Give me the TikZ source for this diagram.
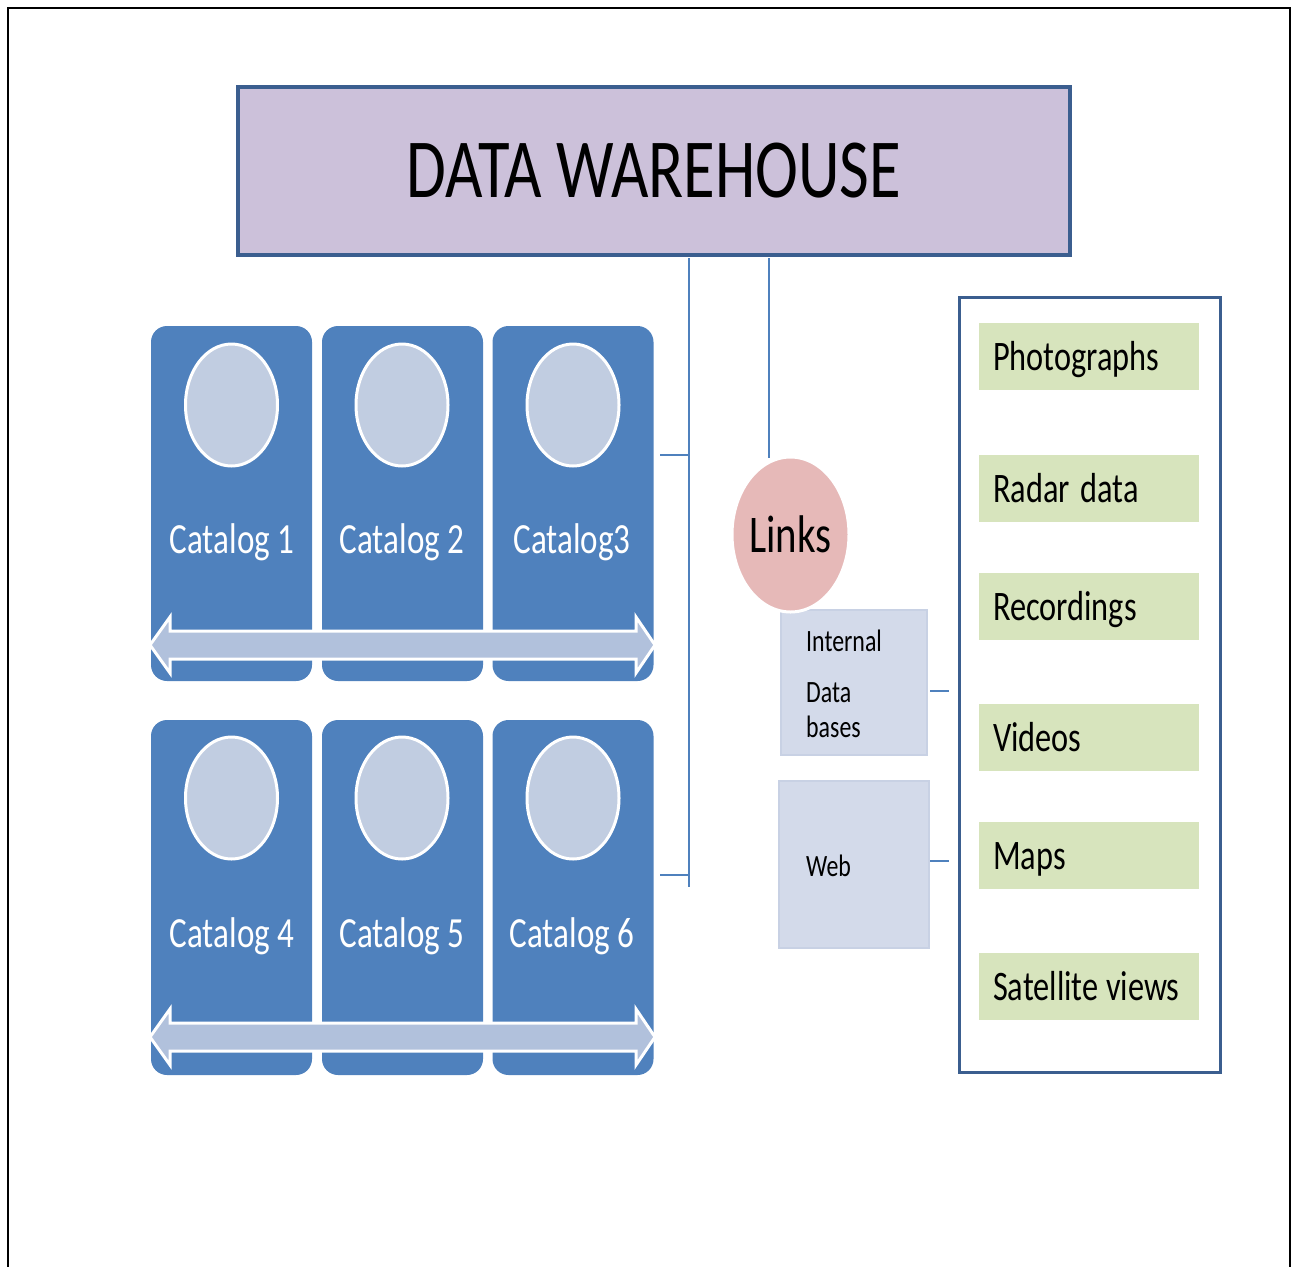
\documentclass[tikz,border=0pt]{standalone}
\usepackage{fontspec}
\setmainfont{Carlito}
\usetikzlibrary{shapes.geometric}
\definecolor{dwfill}{HTML}{CCC1DA}
\definecolor{dwline}{HTML}{3B5E8F}
\definecolor{panelblue}{HTML}{4F81BD}
\definecolor{ellfill}{HTML}{C1CDE1}
\definecolor{arrowfill}{HTML}{B1C1DC}
\definecolor{linkfill}{HTML}{E6B9B8}
\definecolor{dbfill}{HTML}{D3DAEA}
\definecolor{dbline}{HTML}{C8D1E4}
\definecolor{greenfill}{HTML}{D7E4BD}
\definecolor{connblue}{HTML}{4F81BD}
\newcommand{\sq}[1]{\scalebox{0.77}[1]{#1}}
\tikzset{
  dwbox/.style={draw=dwline, line width=3.2pt, fill=dwfill, minimum width=832pt, minimum height=168pt, inner sep=0pt, font=\fontsize{84}{96}\selectfont},
  panel/.style={fill=panelblue, rounded corners=16pt, minimum width=161pt, minimum height=355pt, inner sep=0pt},
  disc/.style={ellipse, draw=white, line width=3pt, fill=ellfill, minimum width=92pt, minimum height=122pt, inner sep=0pt},
  cattext/.style={text=white, anchor=base, inner sep=0pt, font=\fontsize{43}{50}\selectfont},
  dblarrowstyle/.style={fill=arrowfill, draw=white, line width=3pt, line join=miter},
  conn/.style={draw=connblue, line width=1.8pt},
  linkdisc/.style={ellipse, draw=white, line width=3pt, fill=linkfill, minimum width=117pt, minimum height=155pt, inner sep=0pt, font=\fontsize{53}{60}\selectfont},
  dbbox/.style={draw=dbline, line width=1.2pt, fill=dbfill, inner sep=0pt},
  dbtext/.style={anchor=base west, inner sep=0pt, font=\fontsize{31}{36}\selectfont},
  container/.style={draw=dwline, line width=3pt, fill=white, minimum width=261pt, minimum height=775pt, inner sep=0pt},
  greenbox/.style={fill=greenfill, minimum height=67pt, text height=27pt, text depth=0pt, text width=192pt, inner xsep=14pt, inner ysep=0pt, align=left, font=\fontsize{42}{48}\selectfont},
}
\begin{document}
\begin{tikzpicture}[x=1pt,y=-1pt]
\useasboundingbox (0,0) rectangle (1292,1266);
% outer frame
\draw[black, line width=2.5pt] (8,1270) -- (8,8) -- (1290,8) -- (1290,1270);

% data warehouse
\node[dwbox] (dw) at (654,171) {\sq{DATA WAREHOUSE}};

% connectors
\coordinate (trunkend) at (689,887);
\coordinate (t1) at (689,455);
\coordinate (t2) at (689,875);
\coordinate (tick1) at (660,455);
\coordinate (tick2) at (660,875);
\coordinate (lk) at (769,458);
\draw[conn] ([yshift=-1.5pt]dw.south -| trunkend) -- (trunkend);
\draw[conn] (tick1) -- (t1);
\draw[conn] (tick2) -- (t2);
\draw[conn] ([yshift=-1.5pt]dw.south -| lk) -- (lk);

% catalog panels
\foreach \px/\cx in {1/231.5,2/402.5,3/573}{
  \node[panel] (pa\px) at (\cx,503.5) {};
  \node[panel] (pb\px) at (\cx,897.5) {};
}
\node[disc] (da1) at (231.5,405) {};
\node[disc] (da2) at (402,405) {};
\node[disc] (da3) at (573,405) {};
\node[disc] (db1) at (231.5,798) {};
\node[disc] (db2) at (402,798) {};
\node[disc] (db3) at (573,798) {};
\node[cattext] (ca1) at (232,553) {\sq{Catalog 1}};
\node[cattext] (ca2) at (402,553) {\sq{Catalog 2}};
\node[cattext] (ca3) at (572,553) {\sq{Catalog3}};
\node[cattext] (cb1) at (232,947) {\sq{Catalog 4}};
\node[cattext] (cb2) at (402,947) {\sq{Catalog 5}};
\node[cattext] (cb3) at (572,947) {\sq{Catalog 6}};

% double arrows
\foreach \cy in {645,1037}{
  \path[dblarrowstyle] (150,\cy) -- (170,{\cy-28}) -- (170,{\cy-14}) -- (636,{\cy-14}) -- (636,{\cy-28})
     -- (655,\cy) -- (636,{\cy+28}) -- (636,{\cy+14}) -- (170,{\cy+14}) -- (170,{\cy+28}) -- cycle;
}

% links branch
\node[dbbox, minimum width=146pt, minimum height=145pt] (idb) at (854,682.5) {};
\node[dbbox, minimum width=150pt, minimum height=167pt] (web) at (854,864.5) {};
\node[linkdisc] (links) at (790.5,534.5) {\sq{Links}};
\node[dbtext] (idb1) at (806,651) {\sq{Internal}};
\node[dbtext] (idb2) at (806,702) {\sq{Data}};
\node[dbtext] (idb3) at (806,737) {\sq{bases}};
\node[dbtext] (webt) at (806,876) {\sq{Web}};

% container with media types
\node[container] (cont) at (1089.5,684.5) {};
\coordinate (s1a) at (930,691);
\coordinate (s1b) at (949,691);
\coordinate (s2a) at (930,861);
\coordinate (s2b) at (949,861);
\draw[conn] (s1a) -- (s1b);
\draw[conn] (s2a) -- (s2b);

\node[greenbox] (g1) at (1089,356.5) {\sq{Photographs}};
\node[greenbox] (g2) at (1089,488.5) {\sq{Radar data}};
\node[greenbox] (g3) at (1089,606.5) {\sq{Recordings}};
\node[greenbox] (g4) at (1089,737.5) {\sq{Videos}};
\node[greenbox] (g5) at (1089,855.5) {\sq{Maps}};
\node[greenbox] (g6) at (1089,986.5) {\sq{Satellite\kern-4pt{} views}};
\end{tikzpicture}
\end{document}
